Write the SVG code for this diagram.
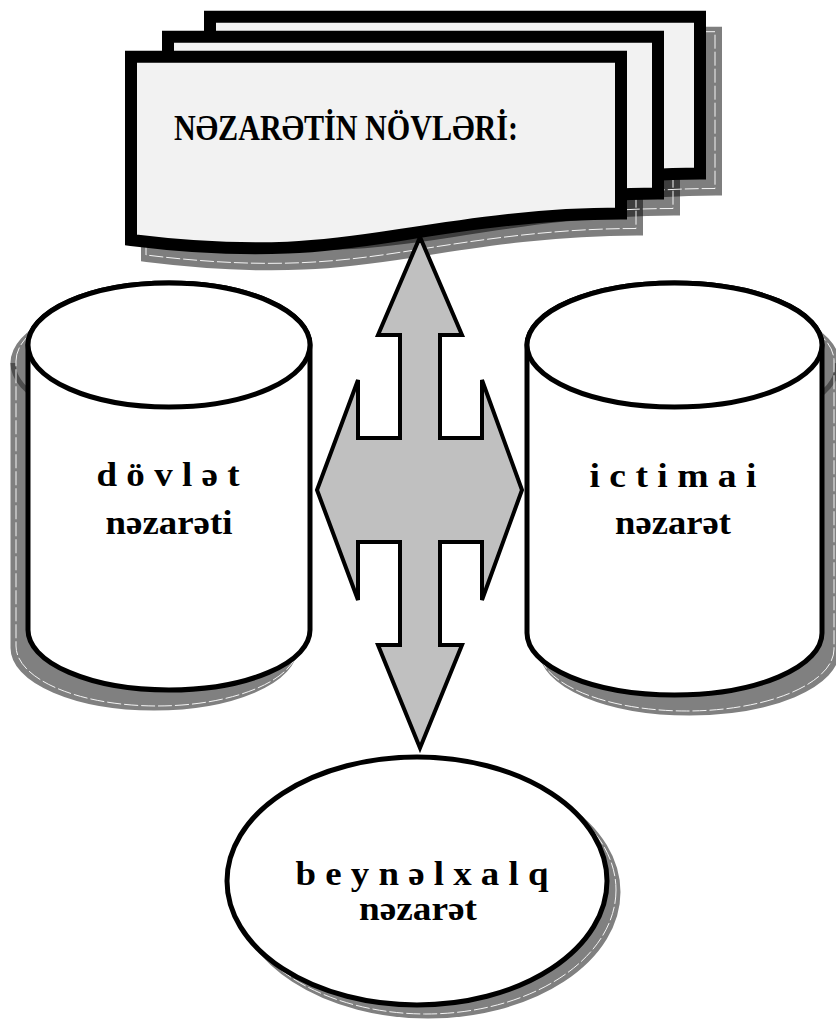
<svg xmlns="http://www.w3.org/2000/svg" width="836" height="1020" viewBox="0 0 836 1020">
  <defs>
    <style>
      .doc { fill: #f2f2f2; stroke: #000; stroke-width: 12; stroke-linejoin: miter; }
      .docsh { fill: #000; stroke: #000; stroke-width: 12; stroke-linejoin: miter; }
      .hl { fill: none; stroke: #f4f4f4; stroke-width: 1; stroke-dasharray: 14 3; }
      .shape { fill: #fff; stroke: #000; stroke-width: 5; }
      .sh { fill: #808080; stroke: #808080; stroke-width: 5; }
      .shline { fill: none; stroke: #4d4d4d; stroke-width: 5; }
      .lbl { font-family: "Liberation Serif", "DejaVu Serif", "Times New Roman", serif; font-weight: bold; fill: #000; text-anchor: middle; }
      .arrow { fill: #c0c0c0; stroke: #000; stroke-width: 4; stroke-linejoin: miter; }
    </style>
    <path id="docShape" d="M131,56.7 H621 V213.5 C540,213.5 470,224 400,235 C330,246 260,256 131,240 Z"/>
    <path id="cylL" d="M28,345 A141,62 0 0 1 310,345 V630 A141,60 0 0 1 28,630 Z"/>
    <path id="cylR" d="M527,345 A147.5,62 0 0 1 822,345 V633 A147.5,62 0 0 1 527,633 Z"/>
  </defs>
  <rect width="836" height="1020" fill="#fff"/>

  <g id="node-title">
    <g opacity="0.5"><use href="#docShape" class="docsh" transform="translate(95,-24)"/></g>
    <g opacity="0.5"><use href="#docShape" class="docsh" transform="translate(53,-4)"/></g>
    <g opacity="0.5"><use href="#docShape" class="docsh" transform="translate(16,16)"/></g>
    <use href="#docShape" class="hl" transform="translate(94,-25)"/>
    <use href="#docShape" class="hl" transform="translate(52,-5)"/>
    <use href="#docShape" class="hl" transform="translate(15,15)"/>
    <use href="#docShape" class="doc" transform="translate(79,-40)"/>
    <use href="#docShape" class="doc" transform="translate(37,-20)"/>
    <use href="#docShape" class="doc"/>
    <text class="lbl" x="346" y="140" font-size="36" textLength="344" lengthAdjust="spacingAndGlyphs">NƏZARƏTİN NÖVLƏRİ:</text>
  </g>

  <g id="node-dovlet">
    <use href="#cylL" class="sh" transform="translate(-15,18)"/>
    <path class="shline" d="M13,363 A141,62 0 0 0 50,405"/>
    <use href="#cylL" class="hl" transform="translate(-12,16)"/>
    <use href="#cylL" class="shape"/>
    <ellipse class="shape" cx="169" cy="345" rx="141" ry="62"/>
    <text class="lbl" x="168" y="486" font-size="34" textLength="143" lengthAdjust="spacingAndGlyphs">d ö v l ə t</text>
    <text class="lbl" x="169" y="534" font-size="34" textLength="127" lengthAdjust="spacingAndGlyphs">nəzarəti</text>
  </g>

  <g id="node-ictimai">
    <use href="#cylR" class="sh" transform="translate(15,18)"/>
    <path class="shline" d="M837,363 A147.5,62 0 0 1 800,407"/>
    <use href="#cylR" class="hl" transform="translate(12,16)"/>
    <use href="#cylR" class="shape"/>
    <ellipse class="shape" cx="674.5" cy="345" rx="147.5" ry="62"/>
    <text class="lbl" x="673" y="487" font-size="34" textLength="167" lengthAdjust="spacingAndGlyphs">i c t i m a i</text>
    <text class="lbl" x="673" y="534" font-size="34" textLength="116" lengthAdjust="spacingAndGlyphs">nəzarət</text>
  </g>

  <g id="node-beynelxalq">
    <ellipse class="sh" cx="428" cy="892" rx="190" ry="124"/>
    <ellipse class="hl" cx="426" cy="890" rx="190" ry="124"/>
    <ellipse class="shape" cx="417" cy="881" rx="190" ry="124"/>
    <text class="lbl" x="422" y="885" font-size="33" textLength="253" lengthAdjust="spacingAndGlyphs">b e y n ə l x a l q</text>
    <text class="lbl" x="418" y="920" font-size="33" textLength="118" lengthAdjust="spacingAndGlyphs">nəzarət</text>
  </g>

  <g id="connectors">
    <polygon class="arrow" points="420,237 462,335 440,335 440,438 482,438 482,380 522,490 482,600 482,542 440,542 440,645 462,645 420,748 378,645 400,645 400,542 358,542 358,600 317,490 358,380 358,438 400,438 400,335 378,335"/>
  </g>
</svg>
